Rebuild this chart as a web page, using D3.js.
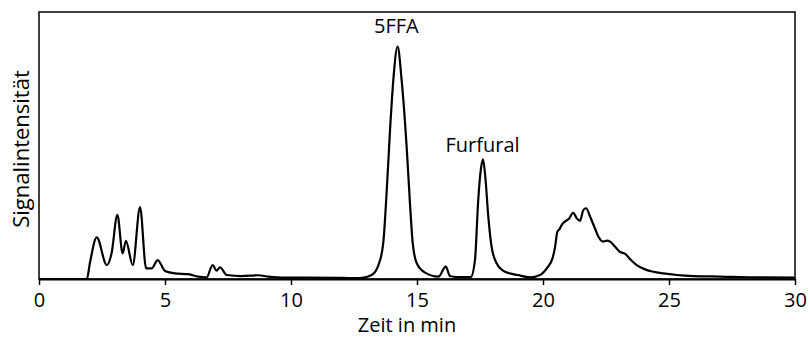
<!DOCTYPE html>
<html>
<head>
<meta charset="utf-8">
<script src="https://cdn.jsdelivr.net/npm/d3@7"></script>
<style>
    body { margin: 0; background: #fff; }
    svg text { font-family: "Open Sans", sans-serif; fill: #000; }
</style>
</head>
<body>
<div id="chart"></div>
<script>
// retention time (min) and signal (arbitrary units)
const zeit = [0, 1.9, 2.02, 2.29, 2.69, 2.88, 3.11, 3.32, 3.45, 3.72, 4.01, 4.25, 4.47, 4.71, 5.0,
    5.4, 5.93, 6.32, 6.65, 6.89, 7.05, 7.18, 7.45, 8.04, 8.7, 9.1, 9.76, 10.5, 12.0, 12.74,
    13.2, 13.47, 13.66, 13.8, 13.93, 14.06, 14.23, 14.39, 14.59, 14.72, 14.83, 14.99, 15.32, 15.85,
    16.14, 16.31, 16.58, 17.13, 17.3, 17.43, 17.53, 17.62, 17.71, 17.83, 17.96, 18.16, 18.49, 19.0,
    19.48, 19.88, 20.15, 20.38, 20.48, 20.57, 20.65, 20.74, 20.87, 21.04, 21.2, 21.34, 21.47, 21.6,
    21.71, 21.87, 22.06, 22.2, 22.39, 22.55, 22.66, 22.86, 23.06, 23.25, 23.45, 23.72, 24.05, 24.38,
    24.77, 25.31, 25.96, 27.02, 28.35, 30];
const signal = [0, 0, 6.0, 15.6, 5.2, 9.6, 24.0, 9.6, 14.3, 5.2, 26.9, 4.0, 4.0, 7.1, 3.0,
    2.1, 1.8, 0.9, 0.6, 5.2, 3.1, 4.4, 1.5, 1.1, 1.4, 0.9, 0.5, 0.5, 0.4, 0.3,
    1.5, 5.2, 13.4, 33.3, 55.8, 74.5, 87.0, 74.5, 49.4, 28.4, 13.4, 5.9, 2.4, 0.9,
    4.6, 1.1, 0.7, 0.7, 7.1, 29.6, 40.8, 44.8, 38.3, 23.3, 12.1, 5.9, 2.7, 1.5,
    0.6, 1.5, 4.0, 7.8, 12.1, 17.7, 18.6, 20.2, 21.5, 22.7, 24.8, 22.7, 21.8, 25.8,
    26.5, 23.3, 19.0, 15.8, 14.0, 14.4, 14.0, 12.1, 10.1, 9.5, 7.5, 5.2, 3.6, 2.7,
    2.1, 1.5, 1.1, 0.9, 0.6, 0.5];

const xTicks = [0, 5, 10, 15, 20, 25, 30];

// peak labels
const peakNames = ["5FFA", "Furfural"];
const peakZeit = [14.18, 17.6];
const peakLabelSignal = [92.1, 47.7];

const width = 810, height = 345;
const margin = {top: 12, right: 15, bottom: 66, left: 39};
const innerW = width - margin.left - margin.right;
const innerH = height - margin.top - margin.bottom;

const svg = d3.select("#chart").append("svg")
    .attr("width", width)
    .attr("height", height);

const g = svg.append("g")
    .attr("transform", `translate(${margin.left},${margin.top})`);

const x = d3.scaleLinear().domain([0, 30]).range([0, innerW]);
const y = d3.scaleLinear().domain([0, 100]).range([innerH, 0]);

const data = zeit.map((t, i) => ({t: t, s: signal[i]}));

// frame
g.append("rect")
    .attr("x", 0).attr("y", 0)
    .attr("width", innerW).attr("height", innerH)
    .attr("fill", "none")
    .attr("stroke", "#000")
    .attr("stroke-width", 1.5);

// x axis
const xAxis = g.append("g")
    .attr("transform", `translate(0,${innerH})`)
    .call(d3.axisBottom(x).tickValues(xTicks).tickSize(6).tickSizeOuter(0).tickPadding(8));
xAxis.select(".domain").attr("stroke-width", 2);
xAxis.selectAll(".tick line").attr("stroke-width", 1.5);
xAxis.selectAll("text").style("font-size", "20px");

// chromatogram
const line = d3.line()
    .x(d => x(d.t))
    .y(d => y(d.s))
    .curve(d3.curveMonotoneX);

g.append("path")
    .datum(data)
    .attr("fill", "none")
    .attr("stroke", "#000")
    .attr("stroke-width", 2.2)
    .attr("stroke-linejoin", "round")
    .attr("d", line);

// peak labels
g.selectAll(".peak-label")
    .data(peakNames)
    .enter().append("text")
    .attr("class", "peak-label")
    .attr("x", (d, i) => x(peakZeit[i]))
    .attr("y", (d, i) => y(peakLabelSignal[i]))
    .attr("text-anchor", "middle")
    .style("font-size", "20px")
    .text(d => d);

// axis titles
svg.append("text")
    .attr("x", 407)
    .attr("y", 332)
    .attr("text-anchor", "middle")
    .style("font-size", "20px")
    .text("Zeit in min");

svg.append("text")
    .attr("transform", "translate(29,149) rotate(-90)")
    .attr("text-anchor", "middle")
    .style("font-size", "22px")
    .text("Signalintensität");
</script>
</body>
</html>
